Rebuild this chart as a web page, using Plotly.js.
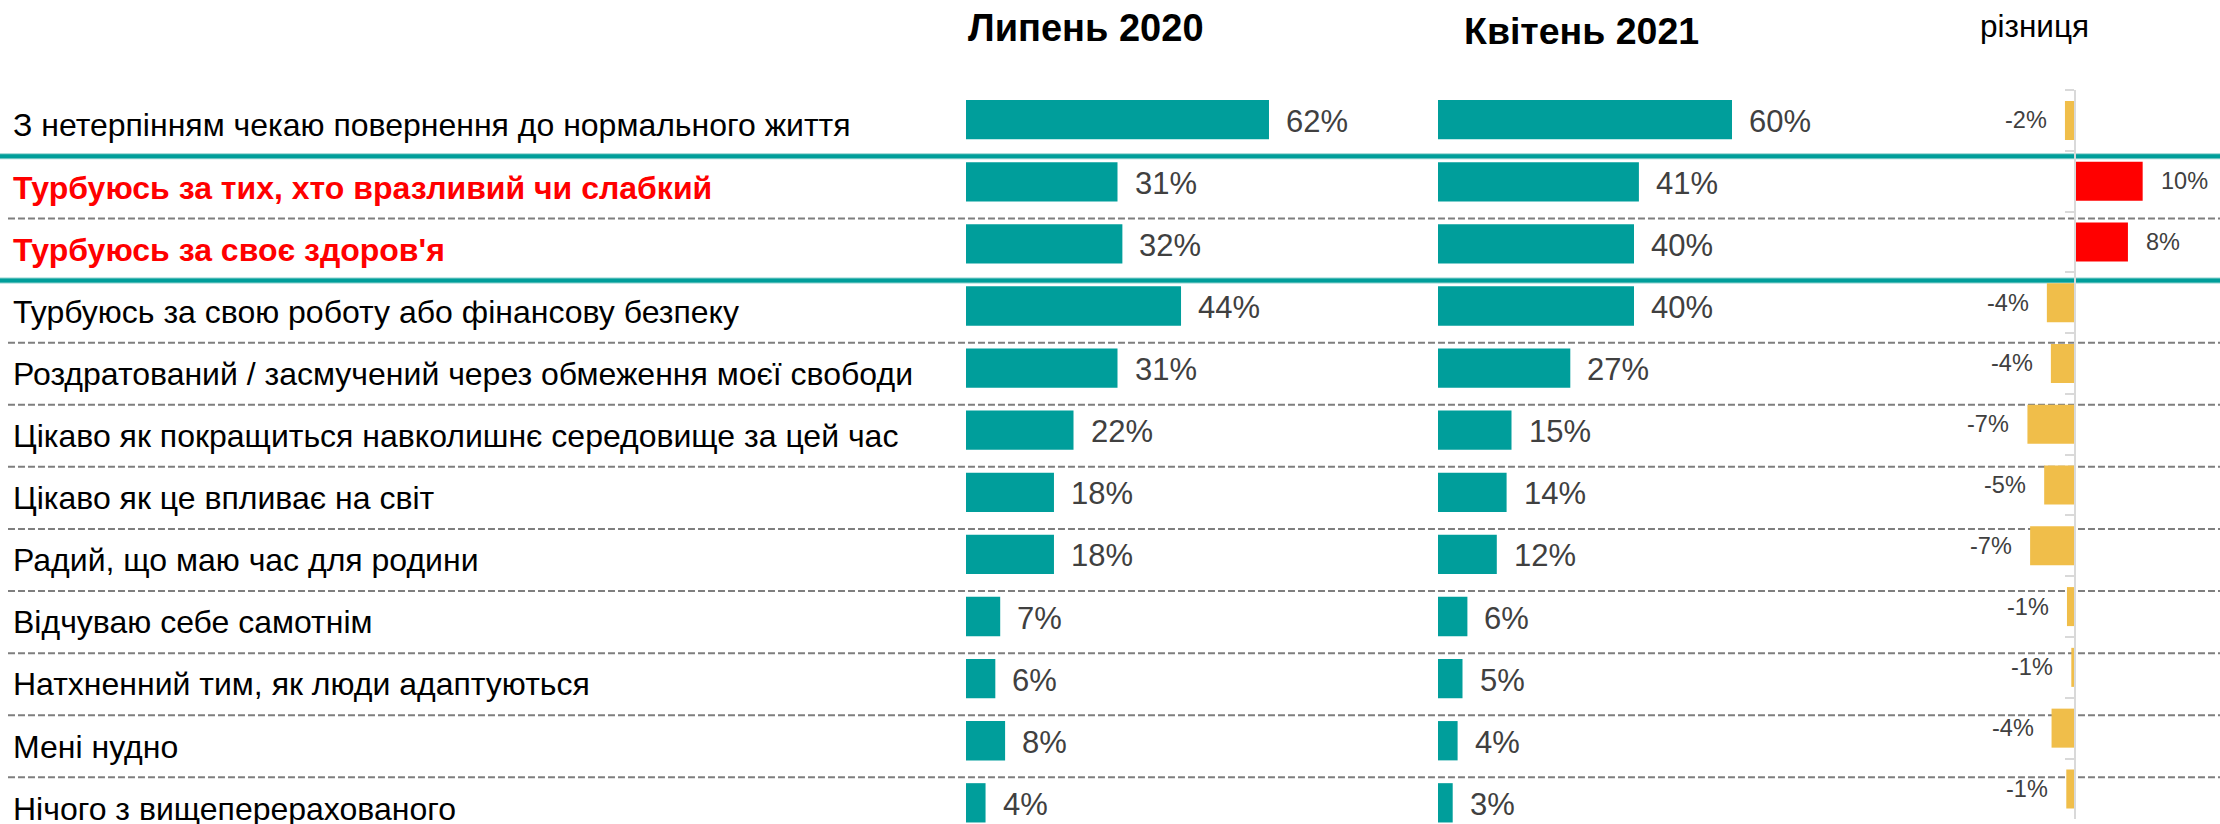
<!DOCTYPE html>
<html>
<head>
<meta charset="utf-8">
<script src="https://cdn.plot.ly/plotly-3.0.1.min.js"></script>
<style>
  html, body { margin: 0; padding: 0; background: #ffffff; }
  #chart { width: 2220px; height: 824px; }
</style>
</head>
<body>
<div id="chart"></div>
<script>
// ---------------- data ----------------
const categories = [
  "З нетерпінням чекаю повернення до нормального життя",
  "Турбуюсь за тих, хто вразливий чи слабкий",
  "Турбуюсь за своє здоров'я",
  "Турбуюсь за свою роботу або фінансову безпеку",
  "Роздратований / засмучений через обмеження моєї свободи",
  "Цікаво як покращиться навколишнє середовище за цей час",
  "Цікаво як це впливає на світ",
  "Радий, що маю час для родини",
  "Відчуваю себе самотнім",
  "Натхненний тим, як люди адаптуються",
  "Мені нудно",
  "Нічого з вищеперерахованого"
];
const highlighted = [false, true, true, false, false, false, false, false, false, false, false, false];
const july2020 = [62, 31, 32, 44, 31, 22, 18, 18, 7, 6, 8, 4];
const april2021 = [60, 41, 40, 40, 27, 15, 14, 12, 6, 5, 4, 3];
const diffValues = [-1.5, 10.1, 7.9, -4.2, -3.6, -7.1, -4.6, -6.7, -1.2, -0.55, -3.5, -1.3];
const diffLabels = ["-2%", "10%", "8%", "-4%", "-4%", "-7%", "-5%", "-7%", "-1%", "-1%", "-4%", "-1%"];
const panelTitles = ["Липень 2020", "Квітень 2021", "різниця"];

// ---------------- style ----------------
const W = 2220, H = 824;
const FONT = "Liberation Sans, Arial, sans-serif";
const TEAL = "#009E9B";
const GOLD = "#F0BE4A";
const RED = "#FF0000";
const VALUE_GREY = "#404040";

const traces = [
  { type: "bar", orientation: "h", x: july2020, y: categories, xaxis: "x", yaxis: "y",
    width: 0.633, marker: { color: TEAL }, hoverinfo: "skip" },
  { type: "bar", orientation: "h", x: april2021, y: categories, xaxis: "x2", yaxis: "y",
    width: 0.633, marker: { color: TEAL }, hoverinfo: "skip" },
  { type: "bar", orientation: "h", x: diffValues, y: categories, xaxis: "x3", yaxis: "y2",
    width: 0.642, marker: { color: diffValues.map(v => v >= 0 ? RED : GOLD) }, hoverinfo: "skip" }
];

const annotations = [];
// row labels
categories.forEach((c, i) => {
  annotations.push({
    xref: "paper", yref: "y", x: 11 / W, y: c, xanchor: "left", yanchor: "middle",
    yshift: -5.8, showarrow: false, text: highlighted[i] ? "<b>" + c + "</b>" : c,
    font: { family: FONT, size: 32, color: highlighted[i] ? RED : "#000000" }
  });
});
// value labels
july2020.forEach((v, i) => {
  annotations.push({ xref: "x", yref: "y", x: v, y: categories[i], xanchor: "left", yanchor: "middle",
    xshift: 15, yshift: -1.5, showarrow: false, text: v + "%",
    font: { family: FONT, size: 31, color: VALUE_GREY } });
});
april2021.forEach((v, i) => {
  annotations.push({ xref: "x2", yref: "y", x: v, y: categories[i], xanchor: "left", yanchor: "middle",
    xshift: 15, yshift: -1.5, showarrow: false, text: v + "%",
    font: { family: FONT, size: 31, color: VALUE_GREY } });
});
diffValues.forEach((v, i) => {
  annotations.push({ xref: "x3", yref: "y2", x: v, y: categories[i],
    xanchor: v >= 0 ? "left" : "right", yanchor: "middle",
    xshift: v >= 0 ? 16 : -16, showarrow: false, text: diffLabels[i],
    font: { family: FONT, size: 23.5, color: VALUE_GREY } });
});
// panel titles
annotations.push({ xref: "paper", yref: "paper", x: 1086 / W, y: 1 - 28 / H, xanchor: "center", yanchor: "middle",
  showarrow: false, text: "<b>" + panelTitles[0] + "</b>", font: { family: FONT, size: 38, color: "#000000" } });
annotations.push({ xref: "paper", yref: "paper", x: 1581 / W, y: 1 - 31 / H, xanchor: "center", yanchor: "middle",
  showarrow: false, text: "<b>" + panelTitles[1] + "</b>", font: { family: FONT, size: 37.5, color: "#000000" } });
annotations.push({ xref: "paper", yref: "paper", x: 2034 / W, y: 1 - 26 / H, xanchor: "center", yanchor: "middle",
  showarrow: false, text: panelTitles[2], font: { family: FONT, size: 31.5, color: "#000000" } });

// separators (positions in category units of the main chart)
const shapes = [];
const tealAfter = [0, 2];
for (let i = 0; i < categories.length - 1; i++) {
  const yv = i + 0.5 + 0.09;
  if (tealAfter.includes(i)) {
    shapes.push({ type: "line", layer: "below", xref: "paper", yref: "y", x0: 0, x1: 1, y0: yv, y1: yv,
      line: { color: "#8FD2CF", width: 6 } });
    shapes.push({ type: "line", layer: "below", xref: "paper", yref: "y", x0: 0, x1: 1, y0: yv, y1: yv,
      line: { color: "#009E9A", width: 4 } });
  } else {
    shapes.push({ type: "line", layer: "below", xref: "paper", yref: "y", x0: 8 / W, x1: 1, y0: yv, y1: yv,
      line: { color: "#7F7F7F", width: 2, dash: "7px,3px" } });
  }
}

const hiddenX = { showgrid: false, zeroline: false, showline: false, showticklabels: false, ticks: "", fixedrange: true };

const layout = {
  width: W, height: H,
  margin: { l: 0, r: 0, t: 0, b: 0, pad: 0 },
  paper_bgcolor: "#ffffff",
  plot_bgcolor: "rgba(0,0,0,0)",
  showlegend: false,
  xaxis: Object.assign({}, hiddenX, { domain: [966 / W, 1420 / W], range: [0, 454 / 4.887], anchor: "y" }),
  xaxis2: Object.assign({}, hiddenX, { domain: [1438 / W, 1890 / W], range: [0, 452 / 4.9], anchor: "y" }),
  xaxis3: Object.assign({}, hiddenX, { domain: [1900 / W, 1], range: [-175 / 6.7, 145 / 6.7], anchor: "y2" }),
  yaxis: {
    type: "category", categoryorder: "array", categoryarray: categories,
    domain: [0, (H - 88.65) / H], range: [11.341, -0.5], anchor: "x",
    showgrid: false, zeroline: false, showline: false, showticklabels: false, ticks: "", fixedrange: true
  },
  yaxis2: {
    type: "category", categoryorder: "array", categoryarray: categories,
    domain: [(H - 819.3) / H, (H - 90) / H], range: [11.5, -0.5],
    anchor: "free", position: 2075 / W,
    showgrid: false, zeroline: false, showticklabels: false,
    showline: true, linecolor: "#D9D9D9", linewidth: 2,
    ticks: "outside", tickson: "boundaries", ticklen: 9, tickwidth: 2, tickcolor: "#D9D9D9",
    fixedrange: true
  },
  annotations: annotations,
  shapes: shapes
};

Plotly.newPlot("chart", traces, layout, { displayModeBar: false, staticPlot: true });
</script>
</body>
</html>
